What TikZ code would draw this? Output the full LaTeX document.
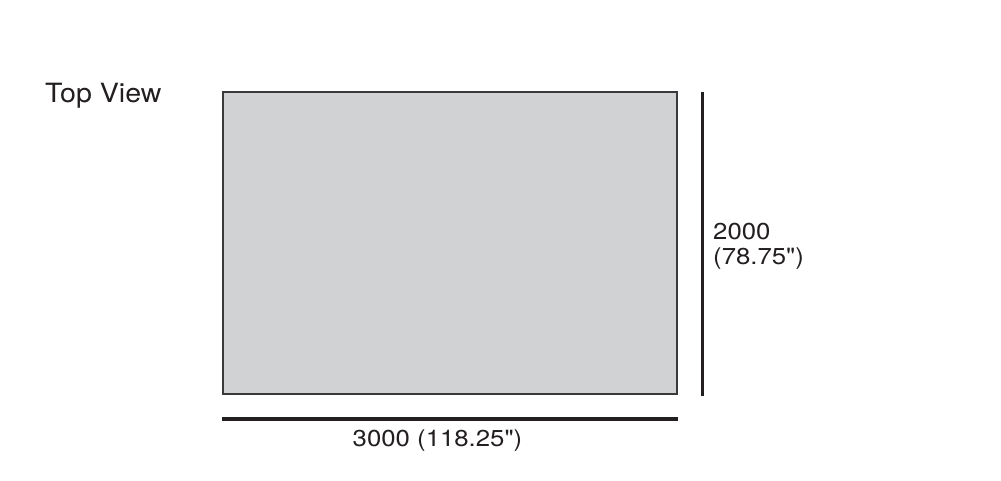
\documentclass[tikz,border=0pt]{standalone}
\usepackage{fontspec}
\setmainfont{TeX Gyre Heros}[Ligatures=TeXOff]
\definecolor{boxfill}{HTML}{D1D2D4}
\definecolor{boxline}{HTML}{3A3A3C}
\definecolor{barcol}{HTML}{231F20}
\tikzset{
  lbl/.style={inner sep=0pt, text=barcol, font=\fontsize{23}{28}\selectfont},
  dimbar/.style={draw=barcol, line width=3.4pt},
}
\begin{document}
\begin{tikzpicture}[x=1pt,y=-1pt]
\useasboundingbox (0,0) rectangle (1001,481);
\node[lbl, anchor=base west, font=\fontsize{26.5}{30}\selectfont] (title) at (45,103) {\scalebox{1.08}[1]{Top View}};
\draw[fill=boxfill, draw=boxline, line width=1.5pt] (223,92) rectangle (677,394);
\coordinate (vt) at (702.5,92);
\coordinate (vb) at (702.5,396);
\draw[dimbar] (vt) -- (vb);
\coordinate (hl) at (222,419);
\coordinate (hr) at (678,419);
\draw[dimbar] (hl) -- (hr);
\node[lbl, anchor=base west] (h1) at (713,240) {\scalebox{1.12}[1]{2000}};
\node[lbl, anchor=base west] (h2) at (713,264) {\scalebox{1.12}[1]{(78.75")}};
\node[lbl, anchor=base] (w) at (437.5,446) {\scalebox{1.12}[1]{3000 (118.25")}};
\end{tikzpicture}
\end{document}
